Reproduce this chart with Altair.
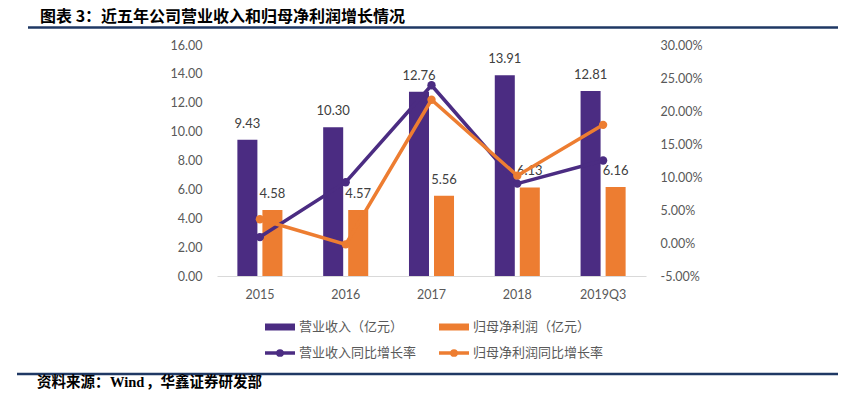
import altair as alt
import pandas as pd

years = ["2015", "2016", "2017", "2018", "2019Q3"]
revenue = [9.43, 10.30, 12.76, 13.91, 12.81]
profit = [4.58, 4.57, 5.56, 6.13, 6.16]
revenue_growth = [0.009, 0.092, 0.239, 0.090, 0.125]
profit_growth = [0.036, -0.002, 0.217, 0.102, 0.179]

bar_series = ["营业收入（亿元）", "归母净利润（亿元）"]
line_series = ["营业收入同比增长率", "归母净利润同比增长率"]
title_text = "图表 3：近五年公司营业收入和归母净利润增长情况"
source_parts = ["资料来源：", "Wind", "，华鑫证券研发部"]

PURPLE = "#4B2C82"
ORANGE = "#ED7D31"
NAVY = "#1F3864"
GRAY = "#595959"
NUMFONT = "Lato"
CJK = "Noto Sans CJK SC"

bars_df = pd.DataFrame(
    [{"year": y, "series": bar_series[0], "value": v} for y, v in zip(years, revenue)]
    + [{"year": y, "series": bar_series[1], "value": v} for y, v in zip(years, profit)]
)
lines_df = pd.DataFrame(
    [{"year": y, "series": line_series[0], "growth": v} for y, v in zip(years, revenue_growth)]
    + [{"year": y, "series": line_series[1], "growth": v} for y, v in zip(years, profit_growth)]
)

x_axis = alt.Axis(title=None, labelAngle=0, ticks=False, domainColor="#D9D9D9",
                  labelPadding=12, labelFontSize=12.5, labelColor=GRAY, labelFont=NUMFONT)
x_enc = alt.X("year:N", sort=years,
              scale=alt.Scale(paddingInner=0.475, paddingOuter=0.2375), axis=x_axis)

y_left = alt.Y("value:Q", scale=alt.Scale(domain=[0, 16], nice=False),
               axis=alt.Axis(values=[0, 2, 4, 6, 8, 10, 12, 14, 16], format=".2f", title=None,
                             domain=False, ticks=False, grid=False, labelPadding=15,
                             labelFontSize=12.5, labelColor=GRAY, labelFont=NUMFONT))

xoff = alt.XOffset("series:N", sort=bar_series, scale=alt.Scale(paddingInner=0.2, paddingOuter=0))
col_bar = alt.Color("series:N", scale=alt.Scale(domain=bar_series, range=[PURPLE, ORANGE]), legend=None)

bars = alt.Chart(bars_df).mark_bar().encode(x=x_enc, xOffset=xoff, y=y_left, color=col_bar)
labels = alt.Chart(bars_df).mark_text(baseline="bottom", dy=-9, fontSize=13, color="#404040",
                                      font=NUMFONT).encode(
    x=x_enc, xOffset=xoff, y=y_left, text=alt.Text("value:Q", format=".2f"))
bar_layer = alt.layer(bars, labels)

y_right = alt.Y("growth:Q", scale=alt.Scale(domain=[-0.05, 0.30], nice=False),
                axis=alt.Axis(orient="right", values=[-0.05, 0, 0.05, 0.10, 0.15, 0.20, 0.25, 0.30],
                              labelExpr="replace(format(datum.value, '.2%'), '−', '-')",
                              title=None, domain=False, ticks=False, grid=False, labelPadding=14,
                              labelFontSize=12.5, labelColor=GRAY, labelFont=NUMFONT))
lines = alt.Chart(lines_df).mark_line(strokeWidth=3.5, point=alt.OverlayMarkDef(filled=True, size=70)).encode(
    x=x_enc, y=y_right,
    color=alt.Color("series:N", scale=alt.Scale(domain=line_series, range=[PURPLE, ORANGE]), legend=None),
    order=alt.Order("series:N"),
)

main = alt.layer(bar_layer, lines).resolve_scale(y="independent", color="independent")

one = pd.DataFrame({"k": [0]})
deco = []
# title and rules
deco.append(alt.Chart(one).mark_text(align="left", baseline="middle", fontSize=16, fontWeight="bold",
                                     font=CJK, color="#000000", text=title_text).encode(
    x=alt.value(-177), y=alt.value(-28.5)))
deco.append(alt.Chart(one).mark_rule(color=NAVY, strokeWidth=2.5).encode(
    x=alt.value(-189), x2=alt.value(629), y=alt.value(-17.5)))
deco.append(alt.Chart(one).mark_rule(color=NAVY, strokeWidth=2.5).encode(
    x=alt.value(-200), x2=alt.value(629), y=alt.value(329)))
src_x = [-180, -107, -71]
src_font = [CJK, "Liberation Serif", CJK]
for t, xv, f in zip(source_parts, src_x, src_font):
    deco.append(alt.Chart(one).mark_text(align="left", baseline="middle", fontSize=14.5, fontWeight="bold",
                                         font=f, color="#000000", text=t).encode(
        x=alt.value(xv), y=alt.value(338)))

# legend
for i, (name, c) in enumerate(zip(bar_series, [PURPLE, ORANGE])):
    x0 = 48 + i * 174
    deco.append(alt.Chart(one).mark_rect(color=c).encode(
        x=alt.value(x0), x2=alt.value(x0 + 30), y=alt.value(278.5), y2=alt.value(285.5)))
    deco.append(alt.Chart(one).mark_text(align="left", baseline="middle", fontSize=13, font=CJK,
                                         color=GRAY, text=name).encode(
        x=alt.value(x0 + 34), y=alt.value(282)))
for i, (name, c) in enumerate(zip(line_series, [PURPLE, ORANGE])):
    x0 = 48 + i * 174
    deco.append(alt.Chart(one).mark_rule(color=c, strokeWidth=3.5).encode(
        x=alt.value(x0), x2=alt.value(x0 + 30), y=alt.value(308)))
    deco.append(alt.Chart(one).mark_point(filled=True, size=60, color=c, opacity=1).encode(
        x=alt.value(x0 + 15), y=alt.value(308)))
    deco.append(alt.Chart(one).mark_text(align="left", baseline="middle", fontSize=13, font=CJK,
                                         color=GRAY, text=name).encode(
        x=alt.value(x0 + 34), y=alt.value(308)))

chart = alt.layer(main, *deco).properties(
    width=429, height=231,
    autosize=alt.AutoSizeParams(type="none"),
    padding={"left": 209, "top": 37, "right": 192, "bottom": 114},
    background="white",
).configure_view(stroke=None)

chart.save("out.html", embed_options={"renderer": "svg", "actions": False})
